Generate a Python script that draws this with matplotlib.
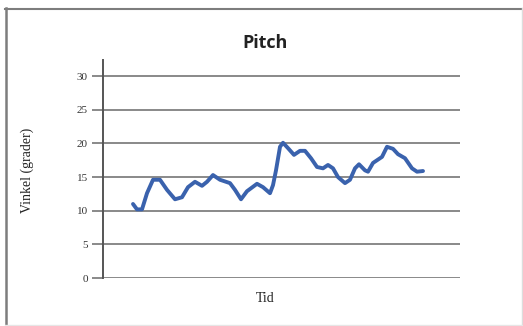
import matplotlib
matplotlib.use("Agg")
import matplotlib.pyplot as plt
from matplotlib.lines import Line2D

# Data (time in arbitrary units, pitch in degrees)
tid = [30, 34, 39, 44, 50, 57, 64, 72, 79, 85, 92, 99, 104, 110, 117, 127, 132, 138,
       144, 154, 160, 167, 170, 173, 177, 180, 185, 191, 197, 202, 208, 214, 220, 225,
       230, 235, 242, 247, 252, 256, 262, 265, 270, 279, 284, 290, 295, 302, 309, 314, 320]
vinkel = [11.0, 10.2, 10.2, 12.6, 14.6, 14.6, 13.1, 11.7, 12.0, 13.5, 14.3, 13.7, 14.3,
          15.3, 14.6, 14.1, 13.1, 11.7, 12.9, 14.0, 13.5, 12.6, 13.8, 16.0, 19.5, 20.1,
          19.3, 18.3, 18.9, 18.9, 17.8, 16.5, 16.3, 16.8, 16.3, 15.0, 14.1, 14.6, 16.3,
          16.9, 16.0, 15.8, 17.1, 18.0, 19.5, 19.2, 18.4, 17.8, 16.3, 15.8, 15.9]
yticks = [0, 5, 10, 15, 20, 25, 30]

W, H = 523, 326
fig = plt.figure(figsize=(W / 100, H / 100), dpi=100)
fig.patch.set_facecolor("white")

# outer frame (scanned look: dark top/left, faint right/bottom)
def fline(x0, y0, x1, y1, c, lw):
    fig.add_artist(Line2D([x0 / W, x1 / W], [1 - y0 / H, 1 - y1 / H],
                          transform=fig.transFigure, color=c, linewidth=lw))

fline(5, 8.5, 523, 8.5, "#7d7d7d", 1.5)
fline(5.5, 8, 5.5, 326, "#7d7d7d", 1.8)
fline(521.5, 8, 521.5, 326, "#dddddd", 1.0)
fline(5, 324.5, 523, 324.5, "#e6e6e6", 1.0)

ax = fig.add_axes([103 / W, (H - 278) / H, 357 / W, (278 - 60) / H])
ax.plot(tid, vinkel, color="#3a62ad", linewidth=2.8, solid_joinstyle="round",
        solid_capstyle="round", zorder=3)

ax.set_xlim(0, 357)
ax.set_ylim(0, 32.4)
ax.set_yticks(yticks)
ax.set_yticklabels([str(v) for v in yticks], fontfamily="Liberation Serif", fontsize=8,
                   color="#333333")
ax.set_xticks([])
ax.tick_params(axis="y", length=8, width=1.3, color="#808080", pad=3)
ax.grid(axis="y", color="#808080", linewidth=1.3)
ax.set_axisbelow(True)
for s in ["top", "right", "bottom"]:
    ax.spines[s].set_visible(False)
ax.spines["left"].set_color("#555555")
ax.spines["left"].set_linewidth(1.4)

fig.text(265 / W, 1 - 43 / H, "Pitch", ha="center", va="center", fontsize=13,
         fontweight="bold", fontfamily="Open Sans", color="#222222")
fig.text(27 / W, 1 - 170 / H, "Vinkel (grader)", ha="center", va="center", rotation=90,
         fontsize=10, fontfamily="Liberation Serif", color="#222222")
fig.text(265 / W, 1 - 299 / H, "Tid", ha="center", va="center", fontsize=10,
         fontfamily="Liberation Serif", color="#222222")

fig.savefig("out.png", dpi=100)
